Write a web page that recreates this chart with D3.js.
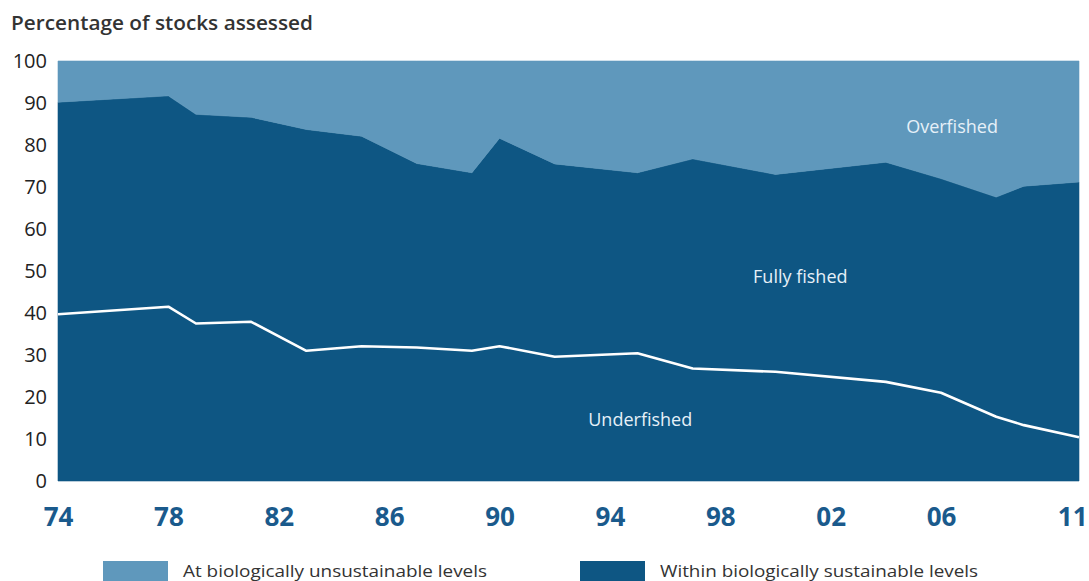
<!DOCTYPE html>
<html>
<head>
<meta charset="utf-8">
<script src="https://cdn.jsdelivr.net/npm/d3@7"></script>
<style>
  html, body { margin: 0; padding: 0; background: #ffffff; }
  svg { display: block; }
</style>
</head>
<body>
<svg id="chart" width="1089" height="581"></svg>
<script>
// ---- data ----
const years       = [1974, 1978, 1979, 1981, 1983, 1985, 1987, 1989, 1990, 1992, 1995, 1997, 2000, 2004, 2006, 2008, 2009, 2011];
const underfished = [39.7, 41.5, 37.5, 37.9, 31.0, 32.1, 31.8, 31.0, 32.1, 29.6, 30.4, 26.8, 26.0, 23.6, 21.0, 15.3, 13.3, 10.4];
const fullyFished = [50.5, 50.2, 49.8, 48.7, 52.7, 50.0, 43.8, 42.4, 49.5, 45.9, 43.0, 49.9, 47.0, 52.3, 51.0, 52.3, 56.9, 60.8];
const overfished  = [ 9.8,  8.3, 12.7, 13.4, 16.3, 17.9, 24.4, 26.6, 18.4, 24.5, 26.6, 23.3, 27.0, 24.1, 28.0, 32.4, 29.8, 28.8];
const xTickYears  = [1974, 1978, 1982, 1986, 1990, 1994, 1998, 2002, 2006, 2011];
const yTicks      = [0, 10, 20, 30, 40, 50, 60, 70, 80, 90, 100];
const regionLabels = ["Underfished", "Fully fished", "Overfished"];
const legendItems  = ["At biologically unsustainable levels", "Within biologically sustainable levels"];
const titleText    = "Percentage of stocks assessed";

// ---- styles ----
const LIGHT = "#5f98bc";
const DARK  = "#0e5683";
const FONT  = "'Open Sans', 'Noto Sans', sans-serif";

const svg = d3.select("#chart");

const x = d3.scaleLinear().domain([1974, 2011]).range([58, 1079]);
const y = d3.scaleLinear().domain([0, 100]).range([481, 61]);

const rows = years.map((yr, i) => ({
  year: yr,
  under: underfished[i],
  fully: fullyFished[i],
  over: overfished[i]
}));

const stack = d3.stack().keys(["under", "fully", "over"]);
const layers = stack(rows);
const layerColor = { under: DARK, fully: DARK, over: LIGHT };

const area = d3.area()
  .x(d => x(d.data.year))
  .y0(d => y(d[0]))
  .y1(d => y(d[1]))
  .curve(d3.curveLinear);

svg.append("g")
  .selectAll("path")
  .data(layers)
  .join("path")
  .attr("d", area)
  .attr("fill", d => layerColor[d.key])
  .attr("stroke", d => layerColor[d.key])
  .attr("stroke-width", 0.6);

// white line on top of the underfished layer
const line = d3.line()
  .x(d => x(d.data.year))
  .y(d => y(d[1]));

svg.append("path")
  .datum(layers[0])
  .attr("d", line)
  .attr("fill", "none")
  .attr("stroke", "#ffffff")
  .attr("stroke-width", 2.6)
  .attr("stroke-linejoin", "round");

// ---- axes ----
const yAxis = d3.axisLeft(y).tickValues(yTicks).tickSize(0).tickPadding(11);
const gy = svg.append("g").attr("transform", `translate(${x(1974)},0)`).call(yAxis);
gy.select(".domain").remove();
gy.selectAll("text")
  .attr("font-family", FONT)
  .attr("font-size", 20)
  .attr("fill", "#222");

const xAxis = d3.axisBottom(x)
  .tickValues(xTickYears)
  .tickSize(0)
  .tickPadding(27)
  .tickFormat(d => String(d).slice(2));
const gx = svg.append("g").attr("transform", `translate(0,${y(0)})`).call(xAxis);
gx.select(".domain").remove();
gx.selectAll("text")
  .attr("font-family", FONT)
  .attr("font-size", 26)
  .attr("font-weight", 700)
  .attr("fill", "#1a5a8c");
gx.selectAll(".tick").filter(d => d === 2011).select("text")
  .attr("text-anchor", "end").attr("dx", 8);

// ---- title ----
svg.append("text")
  .attr("x", 11)
  .attr("y", 30)
  .attr("font-family", FONT)
  .attr("font-size", 19)
  .attr("font-weight", 600)
  .attr("fill", "#333")
  .attr("textLength", 302)
  .attr("lengthAdjust", "spacingAndGlyphs")
  .text(titleText);

// ---- region labels ----
const regionPos = [
  { x: x(1995.1), y: y(13.1) },
  { x: x(2000.9), y: y(47.1) },
  { x: x(2006.4), y: y(82.9) }
];
svg.append("g")
  .selectAll("text")
  .data(regionLabels)
  .join("text")
  .attr("x", (d, i) => regionPos[i].x)
  .attr("y", (d, i) => regionPos[i].y)
  .attr("text-anchor", "middle")
  .attr("font-family", FONT)
  .attr("font-size", 18)
  .attr("fill", "#e6f0f8")
  .text(d => d);

// ---- legend ----
const legendColors = [LIGHT, DARK];
const legendX = [103, 580];
const legendTextLen = [304, 318];
const lg = svg.append("g")
  .selectAll("g")
  .data(legendItems)
  .join("g")
  .attr("transform", (d, i) => `translate(${legendX[i]},561)`);
lg.append("rect")
  .attr("width", 65)
  .attr("height", 22)
  .attr("fill", (d, i) => legendColors[i]);
lg.append("text")
  .attr("x", 80)
  .attr("y", 16)
  .attr("font-family", FONT)
  .attr("font-size", 17)
  .attr("fill", "#333")
  .attr("textLength", (d, i) => legendTextLen[i])
  .attr("lengthAdjust", "spacingAndGlyphs")
  .text(d => d);
</script>
</body>
</html>
